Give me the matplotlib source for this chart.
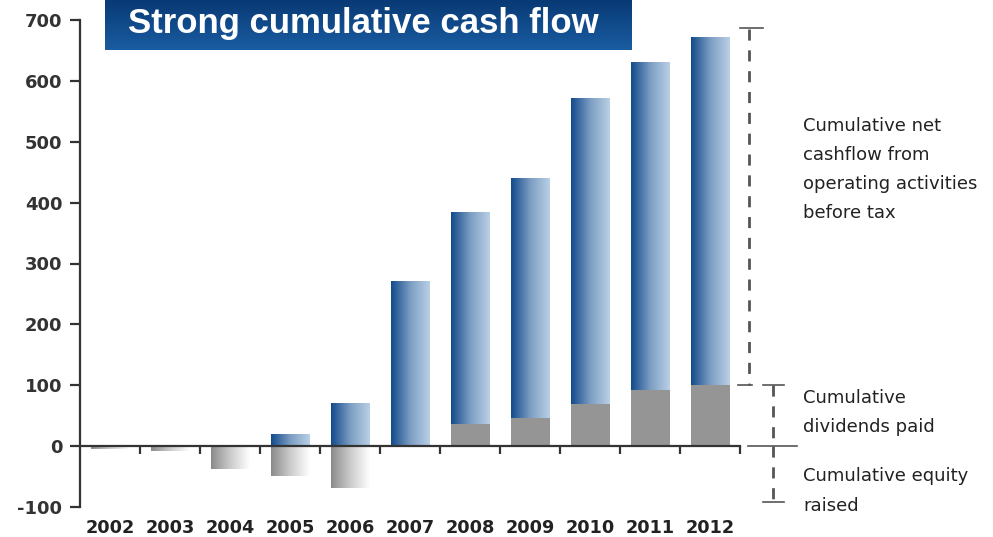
import numpy as np
import matplotlib.pyplot as plt
from matplotlib.colors import LinearSegmentedColormap
from matplotlib import font_manager as fm

# Data
years = ['2002', '2003', '2004', '2005', '2006', '2007',
         '2008', '2009', '2010', '2011', '2012']
cash_flow = [0, 0, 0, 20, 71, 272, 384, 440, 572, 631, 672]
dividends = [0, 0, 0, 0, 0, 0, 36, 47, 70, 92, 101]
equity = [-5, -8, -37, -49, -69, 0, 0, 0, 0, 0, 0]

yticks = list(range(-100, 701, 100))
annot_labels = ['Cumulative net\ncashflow from\noperating activities\nbefore tax',
                'Cumulative\ndividends paid',
                'Cumulative equity\nraised']

plt.rcParams['font.family'] = ['DejaVu Sans']

fig = plt.figure(figsize=(9.93, 5.37), dpi=100)
ax = fig.add_axes([80 / 993, 30 / 537, 660 / 993, 487 / 537])

x = np.arange(len(years))
width = 0.65

blue_cmap = LinearSegmentedColormap.from_list('blue', ['#124a8c', '#7d9ec2', '#b9d0e6'])
grey_cmap = LinearSegmentedColormap.from_list('grey', ['#8a8a8a', '#cccccc', '#ffffff'])
grad = np.linspace(0, 1, 256).reshape(1, -1)


def gradient_bars(xs, tops, bottoms, cmap):
    bars = ax.bar(xs, np.array(tops) - np.array(bottoms), width, bottom=bottoms,
                  color='none', edgecolor='none')
    for b in bars:
        if b.get_height() == 0:
            continue
        x0, y0 = b.get_x(), b.get_y()
        im = ax.imshow(grad, cmap=cmap, aspect='auto', zorder=2,
                       extent=[x0, x0 + b.get_width(), y0, y0 + b.get_height()])
        im.set_clip_path(b)


# Cash flow bars (gradient blue), dividends (grey), equity (grey fading)
gradient_bars(x, cash_flow, dividends, blue_cmap)
ax.bar(x, dividends, width, color='#959595', zorder=3)
gradient_bars(x, equity, [0] * len(x), grey_cmap)

ax.set_xlim(-0.5, len(years) - 0.5)
ax.set_ylim(-100, 700)

# Axes styling
for s in ['top', 'right']:
    ax.spines[s].set_visible(False)
ax.spines['bottom'].set_position(('data', 0))
for s in ['left', 'bottom']:
    ax.spines[s].set_linewidth(1.6)
    ax.spines[s].set_color('#333333')
    ax.spines[s].set_zorder(4)

ax.set_yticks(yticks)
ax.set_yticklabels([str(v) for v in yticks], fontweight='bold', fontsize=13, color='#333333')
ax.tick_params(axis='y', direction='out', length=7.2, width=1.6, color='#333333', pad=5.5)

ax.set_xticks(np.arange(0.5, len(years), 1))
ax.set_xticklabels([])
ax.tick_params(axis='x', direction='out', length=6, width=1.6, color='#333333')

for i, yr in enumerate(years):
    ax.text(i, -0.043, yr, transform=ax.get_xaxis_transform(), ha='center', va='center',
            fontsize=12.7, fontweight='bold', color='#222222')

# Bracket annotations on the right
dash = dict(color='#555555', lw=2, ls=(0, (4, 3.5)), clip_on=False)
cap = dict(color='#555555', lw=1.2, clip_on=False)
ax.plot([10.65, 10.65], [685, 100], **dash)
ax.plot([10.5, 10.88], [687, 687], **cap)
ax.plot([10.47, 10.7], [100, 100], **cap)
ax.plot([11.05, 11.05], [100, 0], **dash)
ax.plot([10.88, 11.23], [100, 100], **cap)
ax.plot([10.63, 11.45], [0, 0], **cap)
ax.plot([11.05, 11.05], [0, -92], **dash)
ax.plot([10.88, 11.23], [-92, -92], **cap)

txt = dict(fontsize=13, ha='left', va='top', linespacing=1.8, color='#222222', clip_on=False)
ax.text(11.55, 541, annot_labels[0], **txt)
ax.text(11.55, 94, annot_labels[1], **txt)
ax.text(11.55, -35, annot_labels[2], **txt)

# Title box with vertical gradient
tax = fig.add_axes([105 / 993, 1 - 50 / 537, 527 / 993, 50 / 537])
title_cmap = LinearSegmentedColormap.from_list('title', ['#083a75', '#1a5ca1'])
tax.imshow(np.linspace(0, 1, 64).reshape(-1, 1), cmap=title_cmap, aspect='auto',
           extent=[0, 1, 0, 1])
tax.set_axis_off()

# Prefer a narrow bold face for the title, if one is installed
names = {f.name for f in fm.fontManager.ttflist}
title_family = 'Liberation Sans Narrow' if 'Liberation Sans Narrow' in names else 'Liberation Sans'
title = tax.text(0.044, 0.34, 'Strong cumulative cash flow', color='white', fontsize=29,
                 fontweight='bold', ha='left', va='baseline', family=title_family)

# Shrink the title so it spans about 470 px, like the reference
renderer = fig.canvas.get_renderer()
w = title.get_window_extent(renderer).width
if w > 470:
    title.set_fontsize(29 * 470 / w)

fig.savefig('out.png', dpi=100)
